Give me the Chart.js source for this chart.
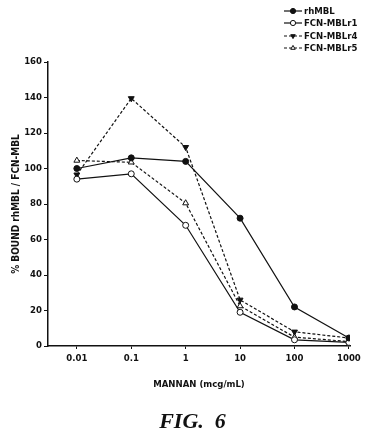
<!DOCTYPE html>
<html>
<head>
<meta charset="utf-8">
<script src="https://cdn.jsdelivr.net/npm/chart.js@4/dist/chart.umd.min.js"></script>
<style>
  html, body { margin: 0; padding: 0; background: #fff; }
  #wrap { position: relative; width: 369px; height: 440px; }
  #fig {
    position: absolute; left: 8px; width: 369px; top: 408px; text-align: center;
    font-family: 'Liberation Serif', 'DejaVu Serif', serif;
    font-weight: bold; font-style: italic; font-size: 22px; color: #111;
  }
</style>
</head>
<body>
<div id="wrap">
  <canvas id="fig6" width="369" height="440"></canvas>
  <div id="fig">FIG.&nbsp; 6</div>
</div>
<script>
const doses = [0.01, 0.1, 1, 10, 100, 1000]
const doseLabels = ['0.01', '0.1', '1', '10', '100', '1000']
const yTicks = [0, 20, 40, 60, 80, 100, 120, 140, 160]

const rhMBL = [100, 106, 104, 72, 22, 4.5]
const fcnR1 = [94, 97, 68, 19, 3.5, 2]
const fcnR4 = [96.5, 139.5, 112, 26, 8, 4.5]
const fcnR5 = [104.5, 103.5, 80.5, 22.5, 5, 2.5]

const font = "'Liberation Sans Narrow', 'DejaVu Sans Condensed', 'Arial Narrow', sans-serif"
const ink = '#111'

const pts = arr => arr.map((v, i) => ({ x: doses[i], y: v }))

function series (label, values, opts) {
  return Object.assign({
    label: label,
    data: pts(values),
    borderColor: ink,
    borderWidth: 1.2,
    pointBorderColor: ink,
    pointBorderWidth: 1,
    pointRadius: 3,
    tension: 0
  }, opts)
}

// legend top right: short line with marker, then text
const legendPlugin = {
  id: 'figLegend',
  afterDraw (chart) {
    const ctx = chart.ctx
    const rows = [11, 23, 36, 48]
    chart.data.datasets.forEach((ds, i) => {
      const y = rows[i]
      ctx.save()
      ctx.strokeStyle = ink
      ctx.lineWidth = 1.2
      ctx.setLineDash(ds.borderDash || [])
      ctx.beginPath()
      ctx.moveTo(284, y)
      ctx.lineTo(302, y)
      ctx.stroke()
      ctx.setLineDash([])
      ctx.fillStyle = ds.pointBackgroundColor
      ctx.lineWidth = 1
      Chart.helpers.drawPoint(ctx, {
        pointStyle: ds.pointStyle,
        rotation: ds.rotation || 0,
        radius: 2.6,
        borderWidth: 1
      }, 293, y)
      ctx.fillStyle = ink
      ctx.font = 'bold 9.5px ' + font
      ctx.textBaseline = 'middle'
      ctx.fillText(ds.label, 304, y + 0.5)
      ctx.restore()
    })
  }
}

new Chart(document.querySelector('#fig6'), {
  type: 'line',
  plugins: [legendPlugin],
  data: {
    datasets: [
      series('rhMBL', rhMBL, {
        pointStyle: 'circle', pointBackgroundColor: ink
      }),
      series('FCN-MBLr1', fcnR1, {
        pointStyle: 'circle', pointBackgroundColor: '#fff'
      }),
      series('FCN-MBLr4', fcnR4, {
        borderDash: [3, 2], pointStyle: 'triangle', rotation: 180,
        pointBackgroundColor: ink, pointRadius: 3.4
      }),
      series('FCN-MBLr5', fcnR5, {
        borderDash: [3, 2], pointStyle: 'triangle',
        pointBackgroundColor: '#fff', pointRadius: 3.4
      })
    ]
  },
  options: {
    responsive: false,
    animation: false,
    layout: {
      padding: { top: 62, right: 19, bottom: 44, left: 0 }
    },
    scales: {
      x: {
        type: 'logarithmic',
        min: Math.pow(10, -2.53),
        max: Math.pow(10, 3.02),
        afterBuildTicks: s => { s.ticks = doses.map(v => ({ value: v })) },
        afterFit: s => { s.height = 50 },
        border: { color: ink, width: 1.5 },
        grid: { drawOnChartArea: false, tickLength: 3, color: ink },
        ticks: {
          autoSkip: false,
          maxRotation: 0,
          color: ink,
          padding: 4,
          font: { family: font, size: 9.5, weight: 'bold' },
          callback: (v, i) => doseLabels[i]
        },
        title: {
          display: true,
          text: 'MANNAN (mcg/mL)',
          color: ink,
          padding: { top: 0, bottom: 6 },
          font: { family: font, size: 9.5, weight: 'bold' }
        }
      },
      y: {
        min: 0,
        max: 160,
        afterBuildTicks: s => { s.ticks = yTicks.map(v => ({ value: v })) },
        afterFit: s => { s.width = 48 },
        border: { color: ink, width: 1.5 },
        grid: { drawOnChartArea: false, tickLength: 4, color: ink },
        ticks: {
          color: ink,
          padding: 2,
          font: { family: font, size: 9.5, weight: 'bold' }
        },
        title: {
          display: true,
          text: '% BOUND rhMBL / FCN-MBL',
          color: ink,
          padding: { top: 10, bottom: 0 },
          font: { family: font, size: 10, weight: 'bold' }
        }
      }
    },
    plugins: {
      legend: { display: false },
      tooltip: { enabled: false }
    }
  }
})
</script>
</body>
</html>
